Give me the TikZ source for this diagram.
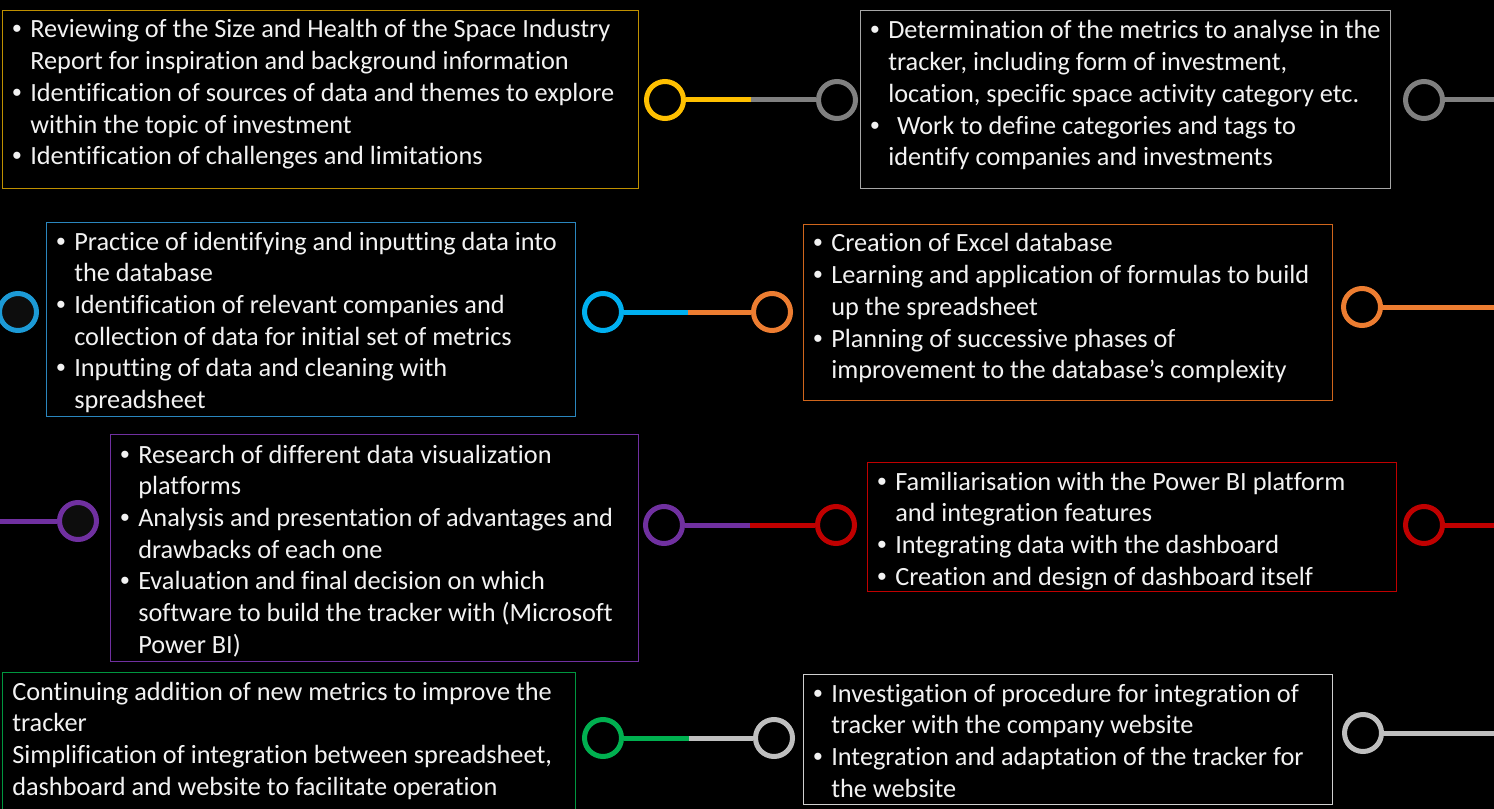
\documentclass[tikz,border=0pt]{standalone}
\usepackage{fontspec}
\setmainfont{Carlito}[Ligatures=NoCommon]
\newfontfamily\bulfont{Liberation Sans}
\usetikzlibrary{calc}
\newlength\px \setlength\px{0.75pt}
\definecolor{ylw}{HTML}{FFC000}
\definecolor{gold}{HTML}{BF9000}
\definecolor{gry}{HTML}{808080}
\definecolor{gryb}{HTML}{A6A6A6}
\definecolor{blu}{HTML}{00B0F0}
\definecolor{blud}{HTML}{1C9AD6}
\definecolor{blub}{HTML}{2A86BE}
\definecolor{org}{HTML}{ED7D31}
\definecolor{orgb}{HTML}{D0661C}
\definecolor{pur}{HTML}{7030A0}
\definecolor{red}{HTML}{C00000}
\definecolor{grn}{HTML}{00B050}
\definecolor{grnb}{HTML}{00963F}
\definecolor{lgr}{HTML}{BFBFBF}
\definecolor{lgrb}{HTML}{D0D0D0}
\definecolor{dk}{HTML}{0D0D0D}
\definecolor{txtc}{HTML}{F2F2F2}
\newcommand\itm[1]{\par\hangindent=18\px\hangafter=1\noindent\hbox to 18\px{{\bulfont •}\hfil}#1}
\newcommand\pln[1]{\par\noindent #1}
\newcommand\blk[1]{\vtop{\hsize=800\px\parindent=0pt\fontsize{26.3\px}{31.7\px}\selectfont\baselineskip=31.7\px\lineskiplimit=-100pt\relax #1\par}}
\tikzset{
  x=0.75pt, y=-0.75pt,
  frame/.style={draw=#1, line width=1.3\px, anchor=north west, inner sep=0pt, fill=none},
  txt/.style={anchor=base west, inner sep=0pt, text=txtc},
  dot/.style={circle, draw=#1, line width=5\px, minimum size=37\px, inner sep=0pt, fill=black},
  link/.style={draw=#1, line width=5\px},
}
\begin{document}
\begin{tikzpicture}
\fill[black] (0,0) rectangle (1494,809);
\useasboundingbox (0,0) rectangle (1494,809);
\clip (0,0) rectangle (1494,809);

% boxes
\node[frame=gold, minimum width=636\px, minimum height=178\px] (b1) at (2,10) {};
\node[frame=gryb, minimum width=530\px, minimum height=178\px] (b2) at (860,10) {};
\node[frame=blub, minimum width=529\px, minimum height=194\px] (b3) at (46,222) {};
\node[frame=orgb, minimum width=529\px, minimum height=176\px] (b4) at (803,224) {};
\node[frame=pur, minimum width=528\px, minimum height=227\px] (b5) at (110,434) {};
\node[frame=red, minimum width=529\px, minimum height=129\px] (b6) at (867,462) {};
\node[frame=grnb, minimum width=573\px, minimum height=145\px] (b7) at (2,672) {};
\node[frame=lgrb, minimum width=529\px, minimum height=130\px] (b8) at (803,674) {};

% texts
\node[txt] (t1) at (12,38) {\blk{%
\itm{Reviewing of the Size and Health of the Space Industry\\Report for inspiration and background information}
\itm{Identification of sources of data and themes to explore\\within the topic of investment}
\itm{Identification of challenges and limitations}}};
\node[txt] (t2) at (870,39) {\blk{%
\itm{Determination of the metrics to analyse in the\\tracker, including form of investment,\\location, specific space activity category etc.}
\itm{\,\,Work to define categories and tags to\\identify companies and investments}}};
\node[txt] (t3) at (56,250) {\blk{%
\itm{Practice of identifying and inputting data into\\the database}
\itm{Identification of relevant companies and\\collection of data for initial set of metrics}
\itm{Inputting of data and cleaning with\\spreadsheet}}};
\node[txt] (t4) at (813,252) {\blk{%
\itm{Creation of Excel database}
\itm{Learning and application of formulas to build\\up the spreadsheet}
\itm{Planning of successive phases of\\improvement to the database’s complexity}}};
\node[txt] (t5) at (120,463) {\blk{%
\itm{Research of different data visualization\\platforms}
\itm{Analysis and presentation of advantages and\\drawbacks of each one}
\itm{Evaluation and final decision on which\\software to build the tracker with (Microsoft\\Power BI)}}};
\node[txt] (t6) at (877,490) {\blk{%
\itm{Familiarisation with the Power BI platform\\and integration features}
\itm{Integrating data with the dashboard}
\itm{Creation and design of dashboard itself}}};
\node[txt] (t7) at (12,700) {\blk{%
\pln{Continuing addition of new metrics to improve the\\tracker}
\pln{Simplification of integration between spreadsheet,\\dashboard and website to facilitate operation}}};
\node[txt] (t8) at (813,702) {\blk{%
\itm{Investigation of procedure for integration of\\tracker with the company website}
\itm{Integration and adaptation of the tracker for\\the website}}};

% row 1
\node[dot=ylw] (c11) at (665,100) {};
\node[dot=gry] (c12) at (837,100) {};
\node[dot=gry] (c13) at (1424,100) {};
\coordinate (e1) at (1494,100);
\draw[link=ylw] (c11) -- ($(c11)!0.5!(c12)$);
\draw[link=gry] ($(c11)!0.5!(c12)$) -- (c12);
\draw[link=gry] (c13) -- (e1);

% row 2
\node[dot=blud, fill=dk] (c20) at (18,312) {};
\node[dot=blu] (c21) at (603,312) {};
\node[dot=org] (c22) at (772,312) {};
\node[dot=org] (c23) at (1362,307) {};
\coordinate (e2) at (1494,307);
\draw[link=blu] (c21) -- ($(c21)!0.5!(c22)$);
\draw[link=org] ($(c21)!0.5!(c22)$) -- (c22);
\draw[link=org] (c23) -- (e2);

% row 3
\coordinate (s3) at (0,521);
\node[dot=pur, fill=dk] (c30) at (78,521) {};
\node[dot=pur] (c31) at (664,525) {};
\node[dot=red] (c32) at (836,525) {};
\node[dot=red] (c33) at (1424,525) {};
\coordinate (e3) at (1494,525);
\draw[link=pur] (s3) -- (c30);
\draw[link=pur] (c31) -- ($(c31)!0.5!(c32)$);
\draw[link=red] ($(c31)!0.5!(c32)$) -- (c32);
\draw[link=red] (c33) -- (e3);

% row 4
\node[dot=grn] (c41) at (603,738) {};
\node[dot=lgr] (c42) at (774,738) {};
\node[dot=lgr] (c43) at (1363,733) {};
\coordinate (e4) at (1494,733);
\draw[link=grn] (c41) -- ($(c41)!0.5!(c42)$);
\draw[link=lgr] ($(c41)!0.5!(c42)$) -- (c42);
\draw[link=lgr] (c43) -- (e4);
\end{tikzpicture}
\end{document}
